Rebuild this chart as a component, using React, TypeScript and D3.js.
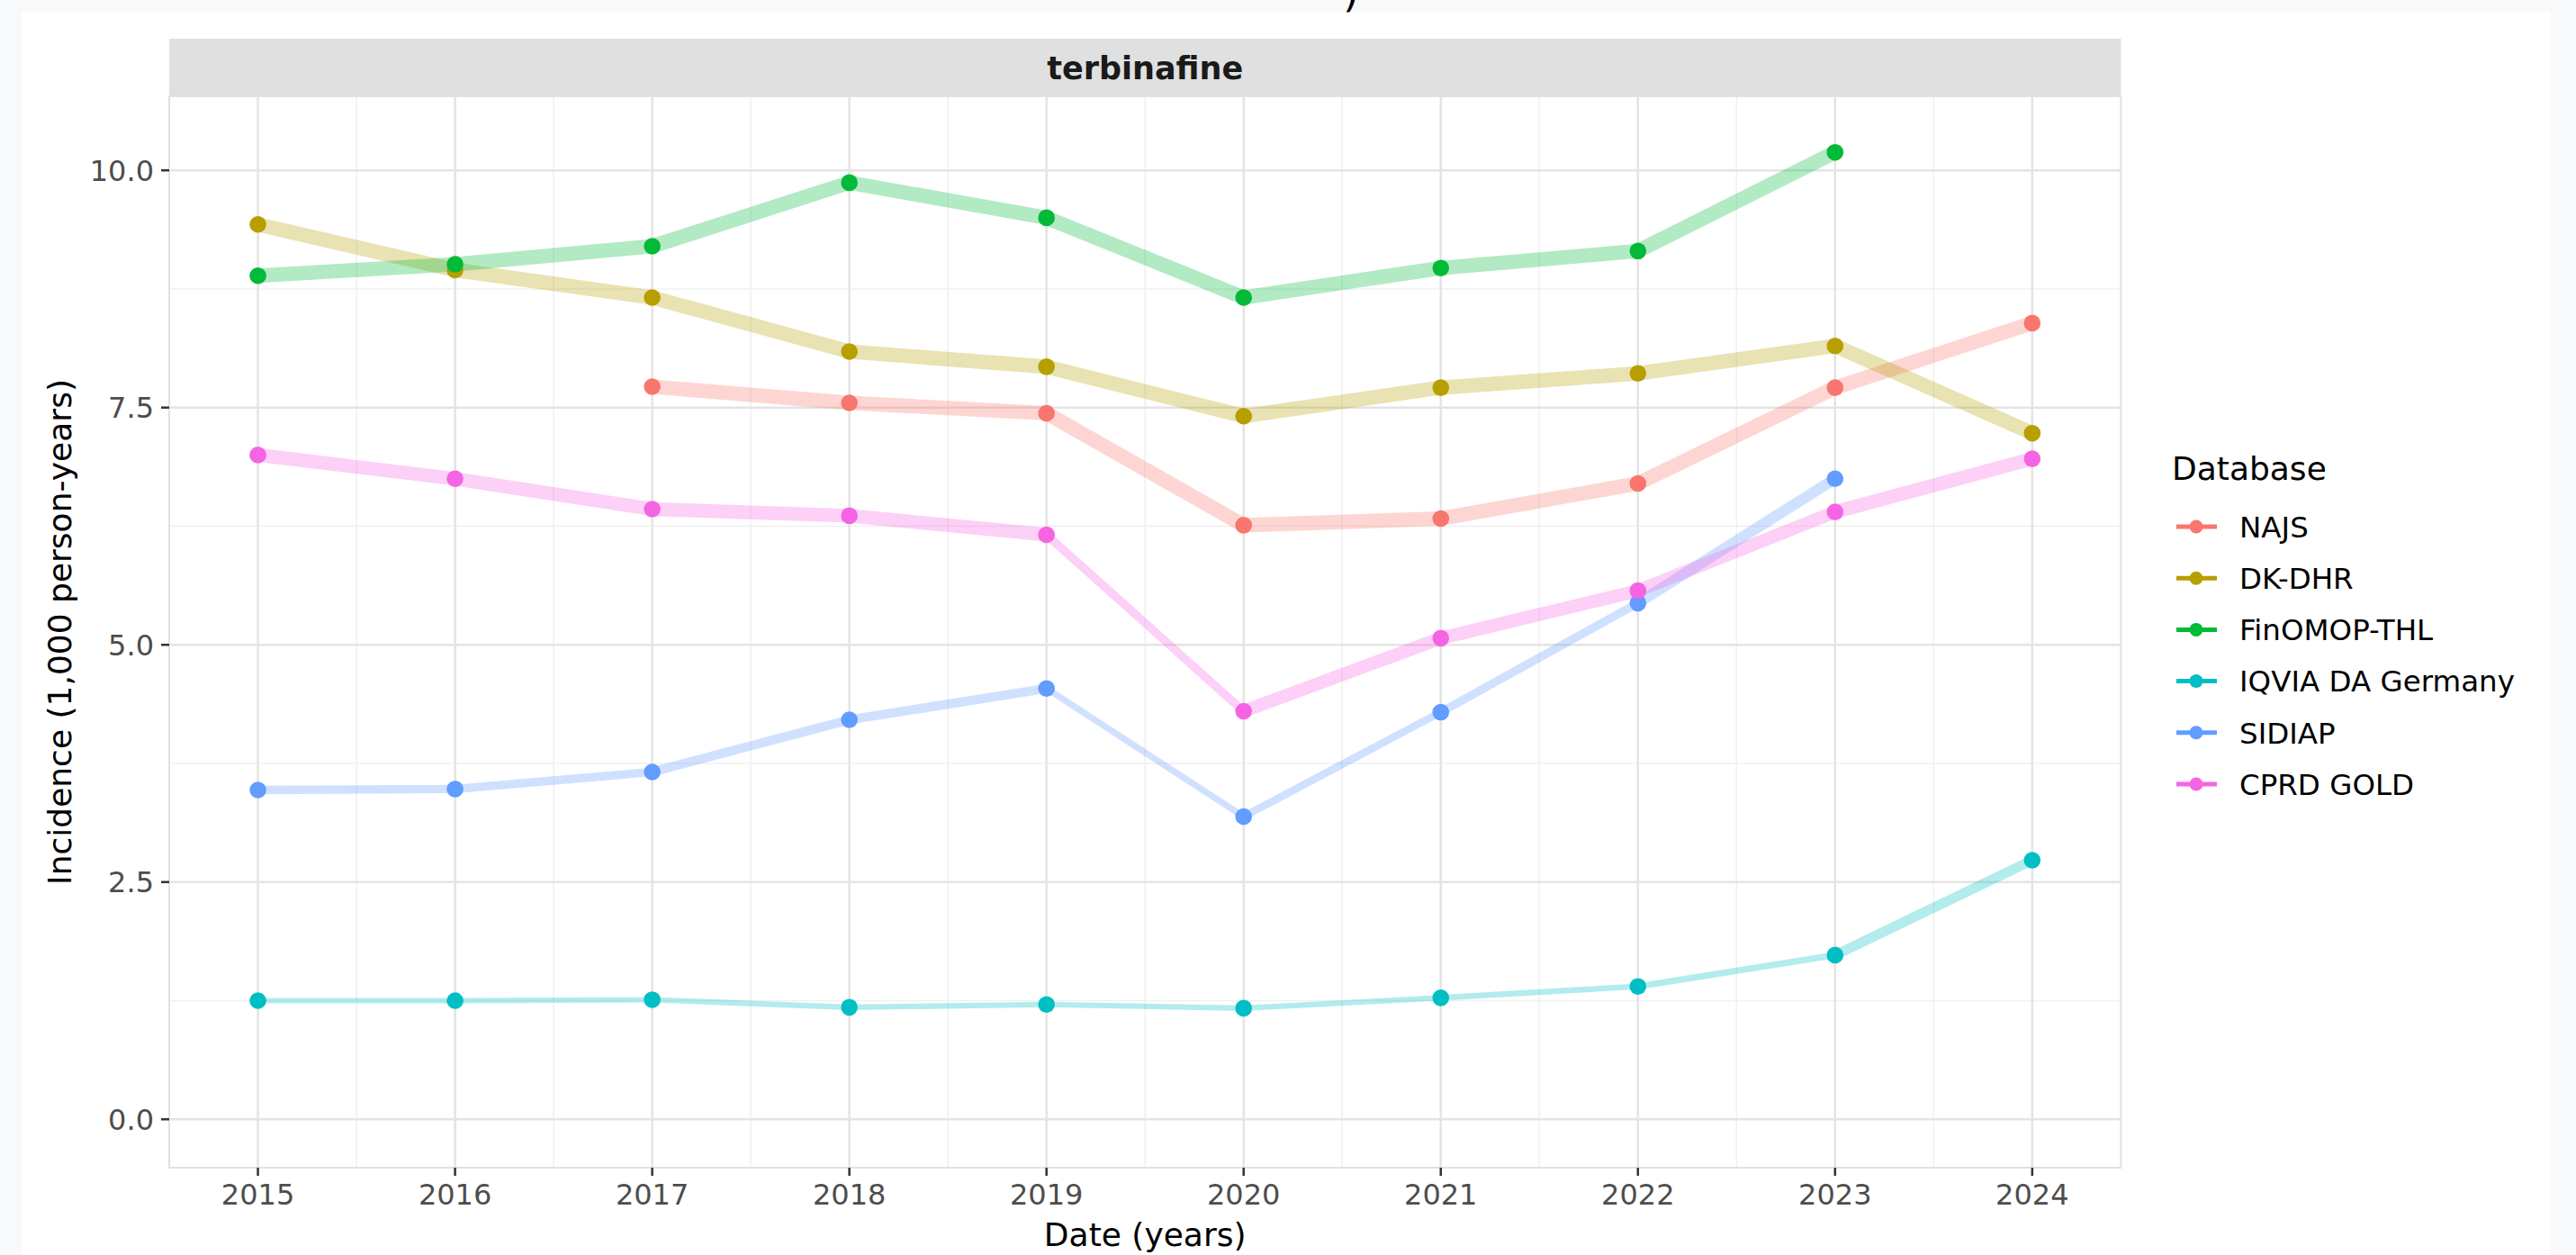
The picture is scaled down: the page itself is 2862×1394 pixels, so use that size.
import React from "react";
import * as d3 from "d3";

// ---------- data ----------
const years = [2015, 2016, 2017, 2018, 2019, 2020, 2021, 2022, 2023, 2024];
const databases = ["NAJS", "DK-DHR", "FinOMOP-THL", "IQVIA DA Germany", "SIDIAP", "CPRD GOLD"];

const najsYears = [2017, 2018, 2019, 2020, 2021, 2022, 2023, 2024];
const najsValues = [7.72, 7.55, 7.44, 6.26, 6.33, 6.70, 7.71, 8.39];
const najsWeight = [0.95, 0.95, 0.95, 0.95, 0.95, 0.95, 0.95, 0.95];

const dkYears = [2015, 2016, 2017, 2018, 2019, 2020, 2021, 2022, 2023, 2024];
const dkValues = [9.43, 8.95, 8.66, 8.09, 7.93, 7.41, 7.71, 7.86, 8.15, 7.23];
const dkWeight = [0.95, 0.95, 0.95, 0.95, 0.95, 0.95, 0.95, 0.95, 0.95, 0.95];

const finYears = [2015, 2016, 2017, 2018, 2019, 2020, 2021, 2022, 2023];
const finValues = [8.89, 9.01, 9.20, 9.87, 9.50, 8.66, 8.97, 9.15, 10.19];
const finWeight = [0.95, 0.95, 0.95, 0.95, 0.95, 0.95, 0.95, 0.95, 0.95];

const iqviaYears = [2015, 2016, 2017, 2018, 2019, 2020, 2021, 2022, 2023, 2024];
const iqviaValues = [1.25, 1.25, 1.26, 1.18, 1.21, 1.17, 1.28, 1.40, 1.73, 2.73];
const iqviaWeight = [0.36, 0.36, 0.36, 0.36, 0.36, 0.36, 0.38, 0.42, 0.65, 0.65];

const sidiapYears = [2015, 2016, 2017, 2018, 2019, 2020, 2021, 2022, 2023];
const sidiapValues = [3.47, 3.48, 3.66, 4.21, 4.54, 3.19, 4.29, 5.44, 6.75];
const sidiapWeight = [0.55, 0.55, 0.6, 0.6, 0.42, 0.5, 0.55, 0.72, 0.72];

const cprdYears = [2015, 2016, 2017, 2018, 2019, 2020, 2021, 2022, 2023, 2024];
const cprdValues = [7.0, 6.75, 6.43, 6.36, 6.16, 4.30, 5.07, 5.57, 6.40, 6.96];
const cprdWeight = [0.9, 0.9, 0.9, 0.9, 0.55, 0.85, 0.85, 0.85, 0.9, 0.9];

const yTicks = [0, 2.5, 5, 7.5, 10];
const yTickLabels = ["0.0", "2.5", "5.0", "7.5", "10.0"];
const yMinor = [1.25, 3.75, 6.25, 8.75];
const xMinor = [2015.5, 2016.5, 2017.5, 2018.5, 2019.5, 2020.5, 2021.5, 2022.5, 2023.5];

const facetLabel = "terbinafine";
const xTitle = "Date (years)";
const yTitle = "Incidence (1,000 person-years)";
const legendTitle = "Database";

const colors = ["#F8766D", "#B79F00", "#00BA38", "#00BFC4", "#619CFF", "#F564E3"];

const seriesList = [
  { name: databases[0], xs: najsYears, ys: najsValues, ws: najsWeight },
  { name: databases[1], xs: dkYears, ys: dkValues, ws: dkWeight },
  { name: databases[2], xs: finYears, ys: finValues, ws: finWeight },
  { name: databases[3], xs: iqviaYears, ys: iqviaValues, ws: iqviaWeight },
  { name: databases[4], xs: sidiapYears, ys: sidiapValues, ws: sidiapWeight },
  { name: databases[5], xs: cprdYears, ys: cprdValues, ws: cprdWeight },
];

// ---------- layout ----------
const W = 2862;
const H = 1394;
const panel = { left: 188, right: 2356.4, top: 107, bottom: 1297 };
const font = "'DejaVu Sans', Verdana, sans-serif";

export default function App() {
  const x = d3.scaleLinear().domain([2014.55, 2024.45]).range([panel.left, panel.right]);
  const y = d3.scaleLinear().domain([-0.51, 10.78]).range([panel.bottom, panel.top]);
  const wScale = d3.scaleLinear().domain([0, 1]).range([0, 17]);
  const color = d3.scaleOrdinal<string, string>().domain(databases).range(colors);

  const legendX = 2413;
  const legendItemY = d3.scaleLinear().domain([0, 5]).range([585, 871]);

  return (
    <div style={{ position: "fixed", left: 0, top: 0, width: W, height: H }}>
      <svg width={W} height={H} style={{ display: "block" }} fontFamily={font}>
        <rect x={0} y={0} width={W} height={H} fill="#f8f9fb" />
        <rect x={24} y={13} width={2834 - 24} height={H - 13} fill="#ffffff" />
        <text x={1492} y={7} fontSize={46} fill="#000">)</text>

        {/* panel background */}
        <rect x={panel.left} y={panel.top} width={panel.right - panel.left} height={panel.bottom - panel.top} fill="#ffffff" />

        {/* minor grid */}
        {xMinor.map((v) => (
          <line key={"xm" + v} x1={x(v)} x2={x(v)} y1={panel.top} y2={panel.bottom} stroke="#f0f0f0" strokeWidth={1.5} />
        ))}
        {yMinor.map((v) => (
          <line key={"ym" + v} x1={panel.left} x2={panel.right} y1={y(v)} y2={y(v)} stroke="#f0f0f0" strokeWidth={1.5} />
        ))}
        {/* major grid */}
        {years.map((v) => (
          <line key={"xg" + v} x1={x(v)} x2={x(v)} y1={panel.top} y2={panel.bottom} stroke="#e4e4e4" strokeWidth={2.5} />
        ))}
        {yTicks.map((v) => (
          <line key={"yg" + v} x1={panel.left} x2={panel.right} y1={y(v)} y2={y(v)} stroke="#e4e4e4" strokeWidth={2.5} />
        ))}

        {/* panel border */}
        <rect x={panel.left} y={panel.top} width={panel.right - panel.left} height={panel.bottom - panel.top} fill="none" stroke="#e2e2e2" strokeWidth={2} />

        {/* strip */}
        <rect x={panel.left} y={43} width={panel.right - panel.left} height={panel.top - 43} fill="#e0e0e0" />
        <text x={(panel.left + panel.right) / 2} y={75} dy="0.36em" textAnchor="middle" fontWeight="bold" fontSize={35} fill="#1a1a1a">
          {facetLabel}
        </text>

        {/* lines */}
        {seriesList.map((s) => (
          <g key={"l" + s.name}>
            {s.xs.slice(0, -1).map((xv, i) => (
              <line
                key={i}
                x1={x(xv)}
                y1={y(s.ys[i])}
                x2={x(s.xs[i + 1])}
                y2={y(s.ys[i + 1])}
                stroke={color(s.name)}
                strokeOpacity={0.3}
                strokeWidth={wScale(s.ws[i])}
                strokeLinecap="butt"
              />
            ))}
          </g>
        ))}
        {/* points */}
        {seriesList.map((s) => (
          <g key={"p" + s.name}>
            {s.xs.map((xv, i) => (
              <circle key={i} cx={x(xv)} cy={y(s.ys[i])} r={9.3} fill={color(s.name)} />
            ))}
          </g>
        ))}

        {/* y axis */}
        {yTicks.map((v, i) => (
          <g key={"yt" + v}>
            <line x1={panel.left - 9} x2={panel.left} y1={y(v)} y2={y(v)} stroke="#333" strokeWidth={2.5} />
            <text x={panel.left - 17} y={y(v)} dy="0.36em" textAnchor="end" fontSize={32} fill="#4d4d4d">
              {yTickLabels[i]}
            </text>
          </g>
        ))}
        {/* x axis */}
        {years.map((v) => (
          <g key={"xt" + v}>
            <line x1={x(v)} x2={x(v)} y1={panel.bottom} y2={panel.bottom + 9} stroke="#333" strokeWidth={2.5} />
            <text x={x(v)} y={1338} textAnchor="middle" fontSize={32} fill="#4d4d4d">
              {v}
            </text>
          </g>
        ))}

        {/* axis titles */}
        <text x={(panel.left + panel.right) / 2} y={1384} textAnchor="middle" fontSize={36} fill="#000">
          {xTitle}
        </text>
        <text
          transform={`translate(79, ${(panel.top + panel.bottom) / 2}) rotate(-90)`}
          textAnchor="middle"
          fontSize={36}
          fill="#000"
        >
          {yTitle}
        </text>

        {/* legend */}
        <text x={legendX} y={533} fontSize={36} fill="#000">
          {legendTitle}
        </text>
        {databases.map((d, i) => (
          <g key={"lg" + d}>
            <line x1={2418} x2={2463} y1={legendItemY(i)} y2={legendItemY(i)} stroke={color(d)} strokeWidth={5} />
            <circle cx={2440} cy={legendItemY(i)} r={7.5} fill={color(d)} />
            <text x={2488} y={legendItemY(i)} dy="0.36em" fontSize={32.5} fill="#000">
              {d}
            </text>
          </g>
        ))}
      </svg>
    </div>
  );
}
